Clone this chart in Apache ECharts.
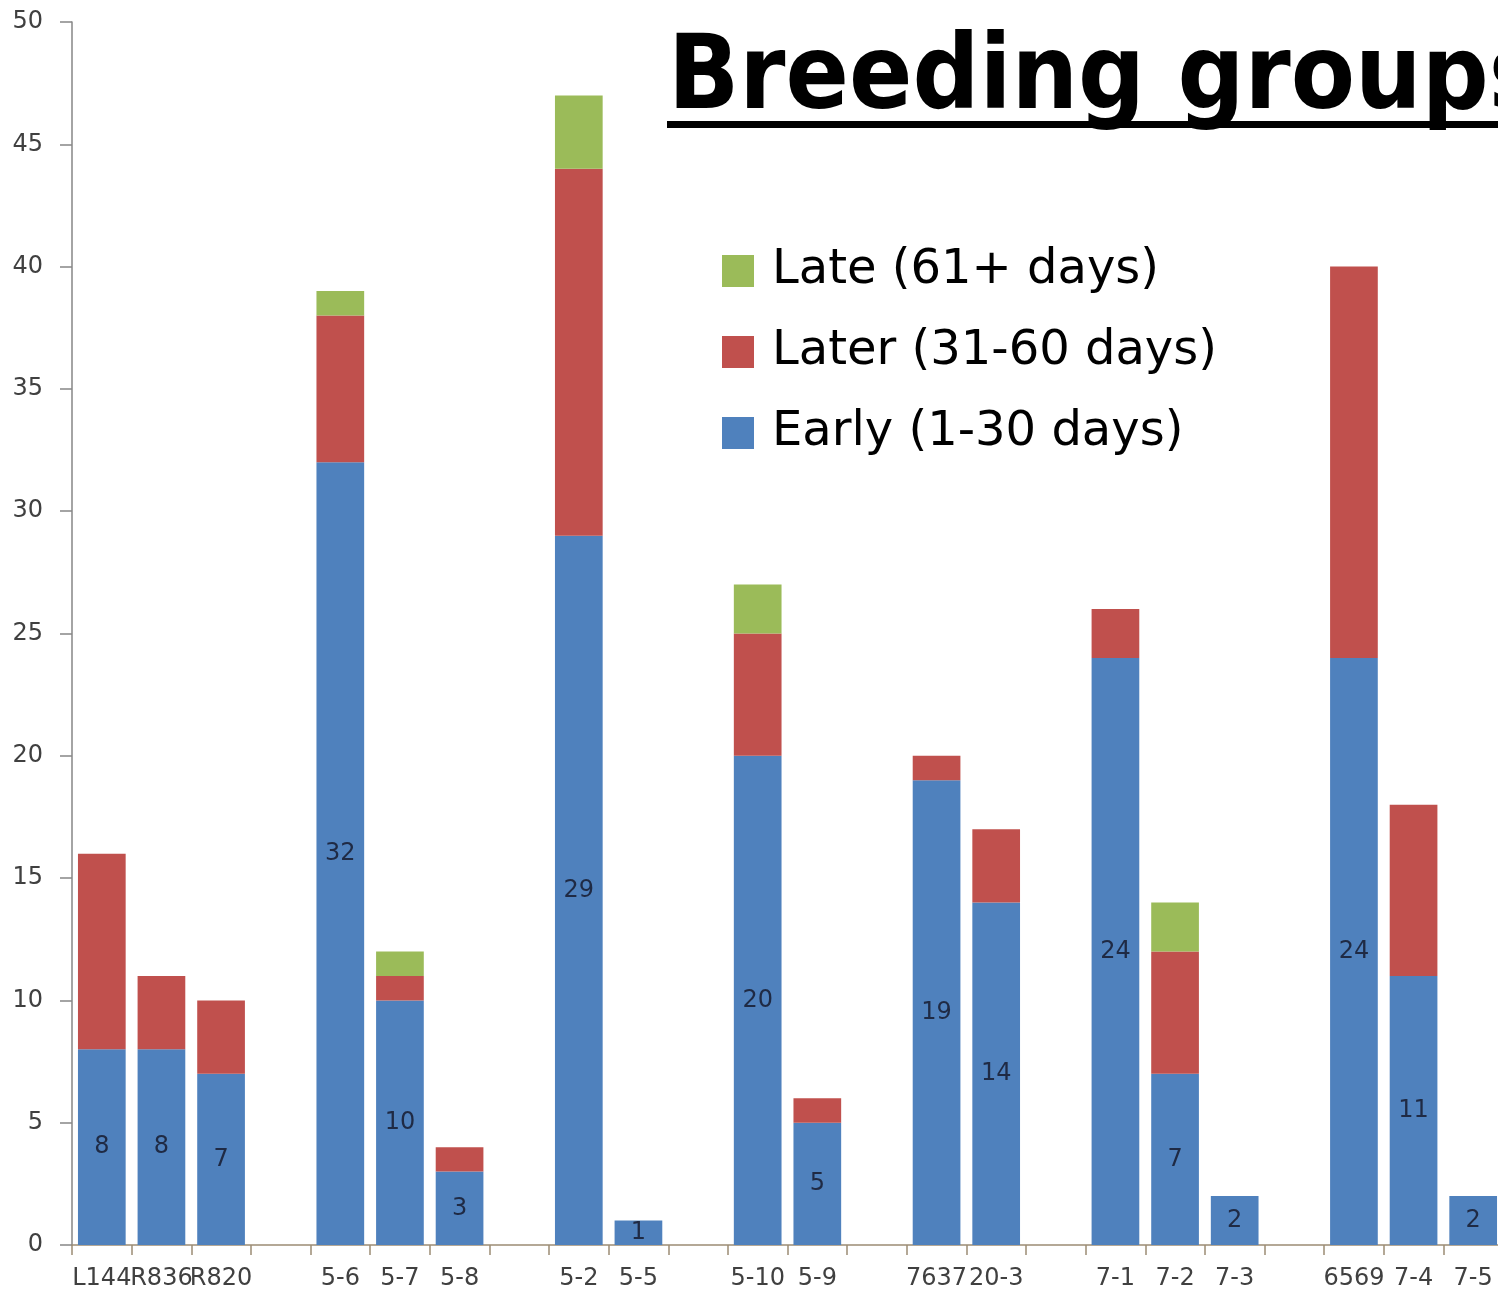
<!DOCTYPE html>
<html>
<head>
<meta charset="utf-8">
<script src="https://cdn.jsdelivr.net/npm/echarts@6/dist/echarts.min.js"></script>
<style>
  html, body { margin: 0; padding: 0; background: #ffffff; }
  #chart { width: 1498px; height: 1293px; }
</style>
</head>
<body>
<div id="chart"></div>
<script>
// Breeding groups; null marks an empty slot separating the groups
const categories = ['L144', 'R836', 'R820', null, '5-6', '5-7', '5-8', null, '5-2', '5-5', null,
  '5-10', '5-9', null, '7637', '20-3', null, '7-1', '7-2', '7-3', null, '6569', '7-4', '7-5'];
const early = [8, 8, 7, null, 32, 10, 3, null, 29, 1, null, 20, 5, null, 19, 14, null, 24, 7, 2, null, 24, 11, 2];
const later = [8, 3, 3, null, 6, 1, 1, null, 15, 0, null, 5, 1, null, 1, 3, null, 2, 5, 0, null, 16, 7, 0];
const late  = [0, 0, 0, null, 1, 1, 0, null, 3, 0, null, 2, 0, null, 0, 0, null, 0, 2, 0, null, 0, 0, 0];
const yTicks = { min: 0, max: 50, step: 5 };
const seriesNames = ['Early (1-30 days)', 'Later (31-60 days)', 'Late (61+ days)'];

// blank, unique names for the spacer slots
let gapCount = 0;
const axisData = categories.map(c => c === null ? ' '.repeat(++gapCount) : c);

const chart = echarts.init(document.getElementById('chart'), null, { renderer: 'canvas' });

const baseFont = 'DejaVu Sans';

chart.setOption({
  backgroundColor: '#ffffff',
  animation: false,
  title: {
    text: 'Breeding groups',
    left: 668,
    top: 29,
    padding: 0,
    textStyle: {
      fontFamily: 'DejaVu Sans Condensed',
      fontWeight: 'bold',
      fontSize: 104,
      color: '#000000'
    }
  },
  graphic: [{
    type: 'rect',
    z: 10,
    shape: { x: 667, y: 121, width: 900, height: 7 },
    style: { fill: '#000000' }
  }],
  legend: {
    orient: 'vertical',
    left: 722,
    top: 247,
    padding: 0,
    itemWidth: 32,
    itemHeight: 32,
    itemGap: 33,
    icon: 'rect',
    data: [seriesNames[2], seriesNames[1], seriesNames[0]],
    textStyle: {
      fontFamily: baseFont,
      fontSize: 48,
      color: '#000000',
      padding: [0, 0, 0, 13]
    }
  },
  grid: {
    left: 72,
    width: 1431,
    top: 22,
    bottom: 48,
    containLabel: false,
    outerBoundsMode: 'none'
  },
  xAxis: {
    type: 'category',
    data: axisData,
    axisLine: { show: true, lineStyle: { color: '#9c8c74', width: 1.5 } },
    axisTick: { show: true, alignWithLabel: false, interval: 0, length: 10, lineStyle: { color: '#9c8c74', width: 1.5 } },
    axisLabel: {
      interval: 0,
      margin: 22,
      fontFamily: baseFont,
      fontSize: 24,
      color: '#404040'
    },
    splitLine: { show: false }
  },
  yAxis: {
    type: 'value',
    min: yTicks.min,
    max: yTicks.max,
    interval: yTicks.step,
    axisLine: { show: true, lineStyle: { color: '#868686', width: 1.5 } },
    axisTick: { show: true, length: 12, lineStyle: { color: '#868686', width: 1.5 } },
    axisLabel: {
      margin: 29,
      fontFamily: baseFont,
      fontSize: 24,
      color: '#404040'
    },
    splitLine: { show: false }
  },
  series: [
    {
      name: seriesNames[0],
      type: 'bar',
      stack: 'total',
      barWidth: '80%',
      data: early,
      itemStyle: { color: '#4F81BD' },
      label: {
        show: true,
        position: 'inside',
        fontFamily: baseFont,
        fontSize: 24,
        color: '#1f2a44'
      }
    },
    {
      name: seriesNames[1],
      type: 'bar',
      stack: 'total',
      barWidth: '80%',
      data: later,
      itemStyle: { color: '#C0504D' }
    },
    {
      name: seriesNames[2],
      type: 'bar',
      stack: 'total',
      barWidth: '80%',
      data: late,
      itemStyle: { color: '#9BBB59' }
    }
  ]
});
</script>
</body>
</html>
